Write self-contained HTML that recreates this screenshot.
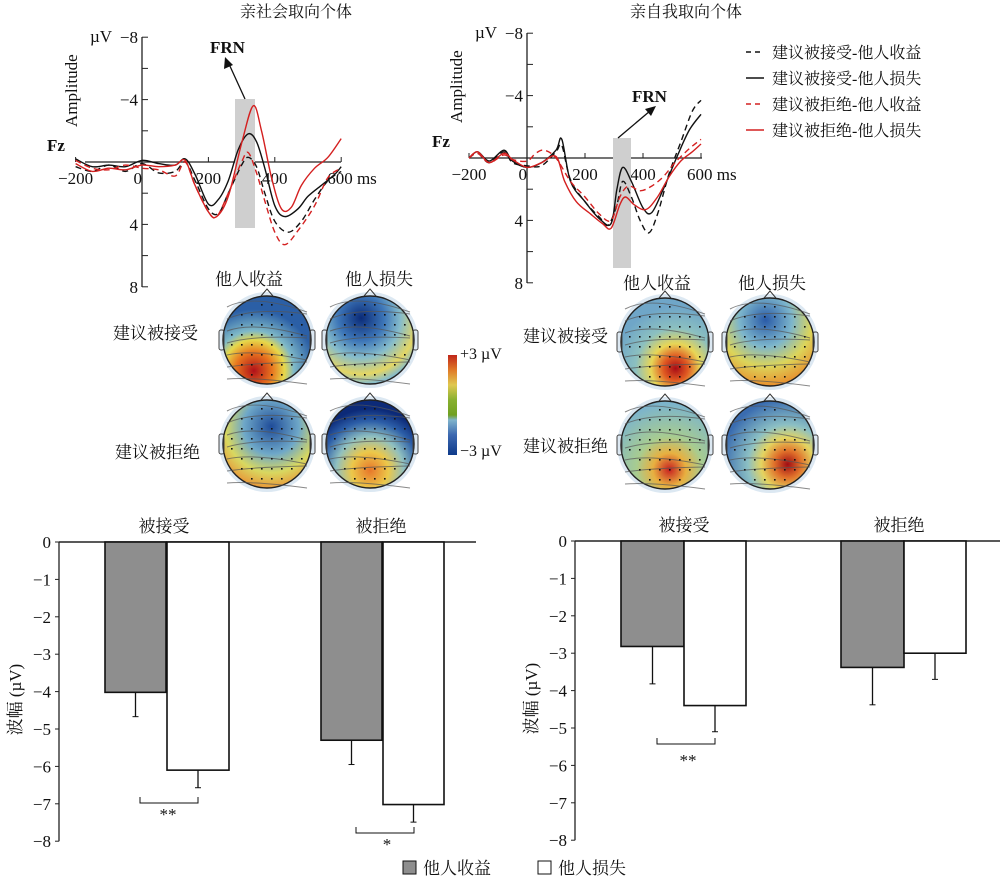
<!DOCTYPE html><html><head><meta charset="utf-8"><style>
body{margin:0;background:#fff;}
svg text{font-family:"Liberation Serif","Noto Serif CJK SC",serif;fill:#111}
.cn{font-family:"Liberation Serif","Noto Serif CJK SC","Noto Sans CJK SC",serif}
</style></head><body>
<svg id="s" width="1000" height="877" viewBox="0 0 1000 877" xmlns="http://www.w3.org/2000/svg">
<defs>
<radialGradient id="gA" cx="35%" cy="85%" r="70%"><stop offset="0" stop-color="#b0101a"/><stop offset="0.3" stop-color="#e8761f"/><stop offset="0.5" stop-color="#e6d84a"/><stop offset="0.65" stop-color="#7fb9c8"/><stop offset="1" stop-color="#2b5fa6"/></radialGradient>
<radialGradient id="gB" cx="40%" cy="25%" r="75%"><stop offset="0" stop-color="#0b2b78"/><stop offset="0.35" stop-color="#3d76b8"/><stop offset="0.6" stop-color="#86bccb"/><stop offset="0.85" stop-color="#e4d664"/><stop offset="1" stop-color="#86bccb"/></radialGradient>
<radialGradient id="gC" cx="55%" cy="30%" r="70%"><stop offset="0" stop-color="#1f4c99"/><stop offset="0.45" stop-color="#6fa8c8"/><stop offset="0.75" stop-color="#d8d860"/><stop offset="1" stop-color="#e89a3a"/></radialGradient>
<radialGradient id="gD" cx="50%" cy="80%" r="70%"><stop offset="0" stop-color="#e8762a"/><stop offset="0.3" stop-color="#ecc84a"/><stop offset="0.55" stop-color="#90c0c0"/><stop offset="0.8" stop-color="#2c5ea8"/><stop offset="1" stop-color="#0c2a78"/></radialGradient>
<radialGradient id="gE" cx="62%" cy="80%" r="70%"><stop offset="0" stop-color="#a80c16"/><stop offset="0.2" stop-color="#e05a22"/><stop offset="0.4" stop-color="#e8d656"/><stop offset="0.65" stop-color="#8cc0c0"/><stop offset="1" stop-color="#6fa6c8"/></radialGradient>
<radialGradient id="gF" cx="45%" cy="25%" r="75%"><stop offset="0" stop-color="#2a5ba8"/><stop offset="0.4" stop-color="#7db6cc"/><stop offset="0.7" stop-color="#dcd55a"/><stop offset="1" stop-color="#e8902e"/></radialGradient>
<radialGradient id="gG" cx="55%" cy="78%" r="75%"><stop offset="0" stop-color="#c82020"/><stop offset="0.25" stop-color="#e8b040"/><stop offset="0.5" stop-color="#a8cc90"/><stop offset="1" stop-color="#7cb4cc"/></radialGradient>
<radialGradient id="gH" cx="70%" cy="72%" r="75%"><stop offset="0" stop-color="#a00c14"/><stop offset="0.2" stop-color="#e0702a"/><stop offset="0.4" stop-color="#e4d460"/><stop offset="0.6" stop-color="#8cc0c4"/><stop offset="1" stop-color="#3a6cb0"/></radialGradient>
<linearGradient id="cb" x1="0" y1="0" x2="0" y2="1"><stop offset="0" stop-color="#c0261a"/><stop offset="0.15" stop-color="#e07a28"/><stop offset="0.3" stop-color="#e0c850"/><stop offset="0.45" stop-color="#88b030"/><stop offset="0.6" stop-color="#70a020"/><stop offset="0.65" stop-color="#80b4cc"/><stop offset="0.8" stop-color="#3c68b0"/><stop offset="1" stop-color="#0e3a8a"/></linearGradient>
</defs>
<g id="g"></g>
</svg>
<script>
var S=document.getElementById('g'),h='';
function add(s){h+=s;}
function smooth(pts){var d='M'+pts[0][0].toFixed(1)+','+pts[0][1].toFixed(1);for(var i=0;i<pts.length-1;i++){var p0=pts[Math.max(0,i-1)],p1=pts[i],p2=pts[i+1],p3=pts[Math.min(pts.length-1,i+2)];d+=' C'+(p1[0]+(p2[0]-p0[0])/6).toFixed(1)+','+(p1[1]+(p2[1]-p0[1])/6).toFixed(1)+' '+(p2[0]-(p3[0]-p1[0])/6).toFixed(1)+','+(p2[1]-(p3[1]-p1[1])/6).toFixed(1)+' '+p2[0].toFixed(1)+','+p2[1].toFixed(1);}return d;}
function erp(ox,oy,sx,sy,data,col,dash){var p=data.map(function(a){return[ox+a[0]*sx,oy+a[1]*sy]});add('<path d="'+smooth(p)+'" fill="none" stroke="'+col+'" stroke-width="1.4"'+(dash?' stroke-dasharray="6,4"':'')+'/>');}
function erpAxes(ax,oy,sx,x0,x1,title,tx){
 add('<line x1="'+ax+'" y1="'+(oy-125)+'" x2="'+ax+'" y2="'+(oy+125)+'" stroke="#222" stroke-width="1.3"/>');
 add('<line x1="'+x0+'" y1="'+oy+'" x2="'+x1+'" y2="'+oy+'" stroke="#222" stroke-width="1.3"/>');
 [-8,-6,-4,-2,2,4,6,8].forEach(function(v){var y=oy+v*15.6;add('<line x1="'+ax+'" y1="'+y+'" x2="'+(ax+6)+'" y2="'+y+'" stroke="#222"/>');});
 [['−8',-8],['−4',-4],['4',4],['8',8]].forEach(function(a){add('<text x="'+(ax-4)+'" y="'+(oy+a[1]*15.6+6)+'" font-size="17" text-anchor="end">'+a[0]+'</text>');});
 [-200,200,400,600].forEach(function(t){var x=ax+t*sx;add('<line x1="'+x+'" y1="'+oy+'" x2="'+x+'" y2="'+(oy-5)+'" stroke="#222"/>');});
 [['−200',-200],['0',0],['200',200],['400',400],['600 ms',600]].forEach(function(a){var x=ax+a[1]*sx;add('<text x="'+(a[1]==600?x-14:x)+'" y="'+(oy+22)+'" font-size="17" text-anchor="'+(a[1]==600?'start':(a[1]==0?'end':'middle'))+'">'+a[0]+'</text>');});
 add('<text x="'+(ax-52)+'" y="'+(oy-120)+'" font-size="17">µV</text>');
 add('<text transform="translate('+(ax-65)+','+(oy-35)+') rotate(-90)" font-size="17">Amplitude</text>');
 add('<text x="'+(ax-95)+'" y="'+(oy-11)+'" font-size="17" font-weight="bold">Fz</text>');
 add('<text x="'+tx+'" y="17" font-size="16" class="cn">'+title+'</text>');
}
erpAxes(142,162,0.332,85,341,'亲社会取向个体',240);
add('<rect x="235" y="99" width="20" height="129" fill="#cfcfcf"/>');
var L={
bs:[[-200,-0.2],[-150,0.3],[-100,0.2],[-50,0.3],[0,-0.1],[50,0.1],[100,0.2],[130,-0.2],[160,0.8],[200,2.7],[230,2.4],[260,1.2],[290,-0.8],[320,-1.8],[345,-1.3],[370,0.4],[400,2.8],[430,3.5],[470,3.0],[500,2.2],[540,1.5],[580,0.8],[600,0.3]],
bd:[[-200,0.3],[-150,0.6],[-100,0.2],[-50,0.6],[0,0.1],[50,0.7],[100,0.6],[130,0.0],[160,1.2],[200,3.0],[230,3.3],[260,2.0],[300,0.2],[320,-0.3],[345,0.3],[370,2.0],[400,3.8],[440,4.5],[480,3.8],[520,2.4],[560,1.2],[600,0.6]],
rd:[[-200,-0.1],[-150,0.4],[-100,0.5],[-50,0.2],[0,0.4],[50,0.5],[100,0.9],[130,0.0],[160,1.5],[200,3.2],[225,3.5],[260,2.0],[300,0.0],[320,-0.6],[345,0.7],[370,2.5],[400,4.5],[430,5.3],[470,4.4],[520,2.8],[560,1.0],[600,0.4]],
rs:[[-200,0.1],[-150,0.6],[-100,0.4],[-50,0.5],[0,0.2],[50,0.3],[100,0.2],[130,-0.1],[160,1.5],[200,3.2],[225,3.5],[260,2.2],[300,-1.2],[335,-3.6],[360,-2.0],[390,1.0],[420,3.0],[450,2.9],[480,1.5],[520,0.4],[560,-0.3],[600,-1.5]]};
erp(142,162,0.332,15.6,L.bd,'#111',1);erp(142,162,0.332,15.6,L.bs,'#111',0);erp(142,162,0.332,15.6,L.rd,'#d42020',1);erp(142,162,0.332,15.6,L.rs,'#d42020',0);
add('<text x="210" y="53" font-size="17" font-weight="bold">FRN</text>');
add('<line x1="245" y1="99" x2="229" y2="64" stroke="#111" stroke-width="1.3"/><polygon points="225,57 224,69 233,65" fill="#111"/>');
erpAxes(527,158,0.29,469,702,'亲自我取向个体',630);
add('<rect x="613" y="138" width="18" height="130" fill="#cfcfcf"/>');
var R={
bs:[[-200,0],[-170,-0.4],[-130,0.2],[-80,-0.5],[-50,0.2],[0,0.6],[50,0.3],[100,-0.5],[120,-1.2],[150,1.5],[200,2.8],[250,3.9],[290,4.2],[310,2.0],[330,0.6],[360,1.5],[400,3.2],[430,3.5],[470,2.0],[520,-0.2],[560,-1.8],[600,-2.8]],
bd:[[-200,0],[-170,-0.3],[-130,0.3],[-80,-0.4],[-50,0.3],[0,0.5],[50,0.5],[100,-0.4],[120,-0.8],[150,1.4],[200,2.8],[250,3.8],[280,4.3],[310,3.0],[330,1.5],[360,2.5],[390,4.0],[420,4.8],[450,3.6],[490,1.0],[530,-1.0],[570,-3.0],[600,-3.7]],
rd:[[-200,0],[-170,-0.3],[-130,0.3],[-80,-0.2],[-50,0.1],[0,0.2],[30,-0.3],[60,-0.5],[100,0.0],[150,1.5],[200,2.5],[250,3.6],[290,4.0],[320,2.5],[350,1.8],[390,2.1],[430,1.8],[470,1.2],[510,0.3],[560,-0.6],[600,-1.2]],
rs:[[-200,0],[-170,-0.4],[-130,0.3],[-80,-0.3],[-50,0.1],[0,0.6],[50,0.3],[100,-0.1],[130,1.5],[170,2.8],[220,3.6],[260,4.2],[290,4.5],[320,3.0],[340,2.5],[370,3.0],[410,3.3],[450,2.5],[490,1.2],[530,0.2],[570,-0.4],[600,-0.9]]};
erp(527,158,0.29,15.6,R.bd,'#111',1);erp(527,158,0.29,15.6,R.bs,'#111',0);erp(527,158,0.29,15.6,R.rd,'#d42020',1);erp(527,158,0.29,15.6,R.rs,'#d42020',0);
add('<text x="632" y="102" font-size="17" font-weight="bold">FRN</text>');
add('<line x1="618" y1="138" x2="650" y2="111" stroke="#111" stroke-width="1.3"/><polygon points="656,106 645,109 651,116" fill="#111"/>');
var lg=[['#111',1,'建议被接受-他人收益'],['#111',0,'建议被接受-他人损失'],['#d42020',1,'建议被拒绝-他人收益'],['#d42020',0,'建议被拒绝-他人损失']];
lg.forEach(function(a,i){var y=52+i*26;add('<line x1="746" y1="'+y+'" x2="764" y2="'+y+'" stroke="'+a[0]+'" stroke-width="1.4"'+(a[1]?' stroke-dasharray="5,4"':'')+'/><text x="772" y="'+(y+6)+'" font-size="16" class="cn">'+a[2]+'</text>');});
function head(cx,cy,g){var r=44;add('<circle cx="'+cx+'" cy="'+cy+'" r="'+(r+4)+'" fill="#dce8f2"/>');add('<circle cx="'+cx+'" cy="'+cy+'" r="'+r+'" fill="url(#'+g+')" stroke="#222" stroke-width="1.4"/>');
add('<path d="M'+(cx-6)+','+(cy-r)+' L'+cx+','+(cy-r-7)+' L'+(cx+6)+','+(cy-r)+'" fill="none" stroke="#333"/>');
add('<rect x="'+(cx-r-4)+'" y="'+(cy-10)+'" width="5" height="20" rx="2" fill="none" stroke="#444"/><rect x="'+(cx+r-1)+'" y="'+(cy-10)+'" width="5" height="20" rx="2" fill="none" stroke="#444"/>');
for(var i=-3;i<=3;i++)add('<path d="M'+(cx-r+4)+','+(cy+i*12+3)+' q'+(r*0.6)+','+(-8+i*2)+' '+(2*r-8)+','+(i%2?5:-5)+'" fill="none" stroke="#555" stroke-opacity=".7" stroke-width="1"/>');
for(var y=-36;y<=36;y+=10)for(var x=-36;x<=36;x+=10){if(x*x+y*y<38*38)add('<rect x="'+(cx+x)+'" y="'+(cy+y)+'" width="1.6" height="1.6" fill="#111"/>');}}
head(267,340,'gA');head(370,340,'gB');head(267,444,'gC');head(370,444,'gD');
head(665,342,'gE');head(770,342,'gF');head(665,445,'gG');head(770,445,'gH');
add('<text x="215" y="285" font-size="17" class="cn">他人收益</text><text x="345" y="285" font-size="17" class="cn">他人损失</text>');
add('<text x="623" y="289" font-size="17" class="cn">他人收益</text><text x="738" y="289" font-size="17" class="cn">他人损失</text>');
add('<text x="113" y="339" font-size="17" class="cn">建议被接受</text><text x="115" y="458" font-size="17" class="cn">建议被拒绝</text>');
add('<text x="523" y="342" font-size="17" class="cn">建议被接受</text><text x="523" y="452" font-size="17" class="cn">建议被拒绝</text>');
add('<rect x="448" y="355" width="9" height="100" fill="url(#cb)"/>');
add('<text x="460" y="359" font-size="16">+3 µV</text><text x="460" y="456" font-size="16">−3 µV</text>');
function bars(ax,oy,x1,bs,lab){var k=37.4;
 add('<line x1="'+ax+'" y1="'+oy+'" x2="'+ax+'" y2="'+(oy+8*k)+'" stroke="#222" stroke-width="1.3"/><line x1="'+ax+'" y1="'+oy+'" x2="'+x1+'" y2="'+oy+'" stroke="#222" stroke-width="1.5"/>');
 for(var i=0;i<=8;i++){var y=oy+i*k;add('<line x1="'+(ax-4)+'" y1="'+y+'" x2="'+ax+'" y2="'+y+'" stroke="#222"/><text x="'+(ax-8)+'" y="'+(y+6)+'" font-size="17" text-anchor="end">'+(i?'−'+i:'0')+'</text>');}
 add('<text transform="translate('+(ax-38)+','+(oy+8*k/2+8)+') rotate(-90)" text-anchor="middle" font-size="17" class="cn">波幅 (µV)</text>');
 bs.forEach(function(b){var h=b[2]*k;add('<rect x="'+b[0]+'" y="'+oy+'" width="'+b[1]+'" height="'+h+'" fill="'+b[4]+'" stroke="#111" stroke-width="1.6"/>');var cx=b[0]+b[1]/2;add('<line x1="'+cx+'" y1="'+(oy+h)+'" x2="'+cx+'" y2="'+(oy+h+b[3]*k)+'" stroke="#111" stroke-width="1.3"/><line x1="'+(cx-3)+'" y1="'+(oy+h+b[3]*k)+'" x2="'+(cx+3)+'" y2="'+(oy+h+b[3]*k)+'" stroke="#111"/>');});
 lab.forEach(function(l){add('<text x="'+l[0]+'" y="'+l[1]+'" font-size="17" text-anchor="middle" class="cn">'+l[2]+'</text>');});}
bars(59,542,476,[[105,61,4.02,0.65,'#8e8e8e'],[167,62,6.1,0.47,'#fff'],[321,61,5.3,0.65,'#8e8e8e'],[383,61,7.02,0.47,'#fff']],[[164,532,'被接受'],[381,532,'被拒绝']]);
add('<path d="M140,797 v6 h58 v-6" fill="none" stroke="#111"/><text x="168" y="820" font-size="17" text-anchor="middle">**</text>');
add('<path d="M356,827 v6 h58 v-6" fill="none" stroke="#111"/><text x="387" y="850" font-size="17" text-anchor="middle">*</text>');
bars(575,541,1000,[[621,63,2.82,1.0,'#8e8e8e'],[684,62,4.4,0.7,'#fff'],[841,63,3.38,1.0,'#8e8e8e'],[904,62,3.0,0.7,'#fff']],[[684,531,'被接受'],[899,531,'被拒绝']]);
add('<path d="M657,738 v6 h58 v-6" fill="none" stroke="#111"/><text x="688" y="766" font-size="17" text-anchor="middle">**</text>');
add('<rect x="403" y="861" width="13" height="13" fill="#8e8e8e" stroke="#111"/><text x="423" y="874" font-size="17" class="cn">他人收益</text>');
add('<rect x="538" y="861" width="13" height="13" fill="#fff" stroke="#111"/><text x="558" y="874" font-size="17" class="cn">他人损失</text>');
S.innerHTML=h;
</script>
</body></html>
